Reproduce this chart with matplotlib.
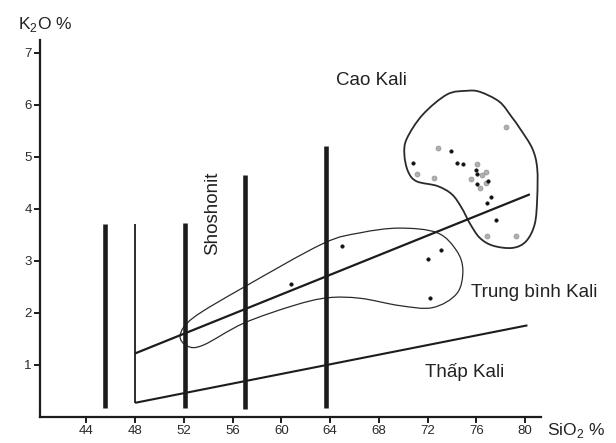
import numpy as np
import matplotlib
matplotlib.use("Agg")
import matplotlib.pyplot as plt
from matplotlib.path import Path
from matplotlib.patches import PathPatch

plt.rcParams['font.family'] = ['Liberation Sans', 'DejaVu Sans']

# ranh giới các trường (SiO2, K2O)
line_mid_x = [48.0, 80.4]
line_mid_y = [1.22, 4.28]
line_low_x = [48.0, 80.2]
line_low_y = [0.27, 1.76]
line_48_x = [48.0, 48.0]
line_48_y = [0.27, 3.7]

# các vạch đứng dày
bar_x = [45.5, 52.1, 57.0, 63.7]
bar_bottom = [0.17, 0.17, 0.16, 0.17]
bar_top = [3.7, 3.72, 4.66, 5.2]

# đường bao nhóm Cao Kali
upper_blob_x = [75.2, 76.3, 77.9, 78.9, 79.6, 80.6, 81.0, 81.0, 80.8, 80.1, 79.0, 77.4,
                76.3, 75.5, 74.8, 74.0, 72.8, 71.1, 70.4, 70.1, 70.3, 71.6, 73.6]
upper_blob_y = [6.27, 6.25, 6.06, 5.77, 5.54, 5.16, 4.78, 4.21, 3.71, 3.38, 3.25, 3.29,
                3.44, 3.71, 4.02, 4.28, 4.44, 4.53, 4.72, 5.05, 5.35, 5.81, 6.20]

# đường bao nhóm Trung bình Kali
lower_blob_x = [51.7, 52.8, 56.9, 63.4, 66.5, 69.7, 72.8, 74.4, 74.9, 74.4, 72.4, 69.7,
                66.5, 63.8, 61.0, 56.9, 53.6, 52.3]
lower_blob_y = [1.57, 1.91, 2.49, 3.33, 3.54, 3.63, 3.54, 3.19, 2.81, 2.37, 2.10, 2.14,
                2.28, 2.29, 2.14, 1.80, 1.38, 1.36]

# mẫu (điểm đen)
dark_x = [73.9, 70.8, 74.4, 74.9, 76.0, 76.05, 77.0, 76.1, 77.2, 76.9, 77.6,
          65.0, 60.8, 73.1, 72.0, 72.2]
dark_y = [5.12, 4.88, 4.89, 4.86, 4.74, 4.67, 4.53, 4.47, 4.23, 4.11, 3.79,
          3.29, 2.56, 3.21, 3.04, 2.29]

# mẫu (điểm xám)
grey_x = [72.9, 76.1, 71.1, 76.8, 76.5, 72.5, 75.6, 76.8, 76.3, 78.4, 76.9, 79.3]
grey_y = [5.18, 4.86, 4.68, 4.70, 4.65, 4.59, 4.57, 4.49, 4.40, 5.58, 3.48, 3.48]

x_ticks = [44, 48, 52, 56, 60, 64, 68, 72, 76, 80]
y_ticks = [1, 2, 3, 4, 5, 6, 7]

ink = '#1c1c1c'


def closed_curve(xs, ys):
    # đường cong kín trơn qua các điểm (Catmull-Rom -> Bezier bậc 3)
    p = np.column_stack([xs, ys])
    n = len(p)
    verts = [p[0]]
    codes = [Path.MOVETO]
    for i in range(n):
        p0, p1, p2, p3 = p[i - 1], p[i], p[(i + 1) % n], p[(i + 2) % n]
        verts += [p1 + (p2 - p0) / 6, p2 - (p3 - p1) / 6, p2]
        codes += [Path.CURVE4] * 3
    return Path(verts, codes)


fig = plt.figure(figsize=(6.16, 4.43), dpi=100)
ax = fig.add_axes([0.065, 0.059, 0.813, 0.851])
ax.set_xlim(40.2, 81.3)
ax.set_ylim(0, 7.25)

for s in ['top', 'right']:
    ax.spines[s].set_visible(False)
for s in ['left', 'bottom']:
    ax.spines[s].set_linewidth(1.6)
    ax.spines[s].set_color(ink)

ax.set_xticks(x_ticks)
ax.set_yticks(y_ticks)
ax.tick_params(direction='out', length=4, width=1.4, color=ink,
               labelsize=9.5, labelcolor='#2a2a2a', pad=2)

ax.plot(line_mid_x, line_mid_y, color=ink, lw=1.6, solid_capstyle='butt')
ax.plot(line_low_x, line_low_y, color=ink, lw=1.5, solid_capstyle='butt')
ax.plot(line_48_x, line_48_y, color=ink, lw=1.3, solid_capstyle='butt')
ax.vlines(bar_x, bar_bottom, bar_top, color=ink, lw=3.3)

ax.add_patch(PathPatch(closed_curve(upper_blob_x, upper_blob_y), fill=False,
                       ec='#2a2a2a', lw=1.3, clip_on=False))
ax.add_patch(PathPatch(closed_curve(lower_blob_x, lower_blob_y), fill=False,
                       ec='#2a2a2a', lw=0.9, clip_on=False))

ax.plot(grey_x, grey_y, 'o', ms=3.5, mfc='#b0b0b0', mec='#999999', mew=0.6, clip_on=False)
ax.plot(dark_x, dark_y, 'o', ms=2.6, mfc='#111111', mec='#111111', mew=0.3, clip_on=False)

ax.text(64.5, 6.46, 'Cao Kali', fontsize=13.5, color='#222222', va='center', ha='left')
ax.text(54.4, 3.92, 'Shoshonit', fontsize=13.5, color='#222222', rotation=90,
        va='center', ha='center')
ax.text(75.6, 2.39, 'Trung bình Kali', fontsize=13.5, color='#222222', va='center', ha='left')
ax.text(71.8, 0.86, 'Thấp Kali', fontsize=13.5, color='#222222', va='center', ha='left')

fig.text(18 / 616, 1 - 25 / 443, r'K$_\mathregular{2}$O %', fontsize=12.5,
         color='#222222', va='center', ha='left')
fig.text(547 / 616, 1 - 430 / 443, r'SiO$_\mathregular{2}$ %', fontsize=12.5,
         color='#222222', va='center', ha='left')

fig.savefig('out.png', dpi=100)
